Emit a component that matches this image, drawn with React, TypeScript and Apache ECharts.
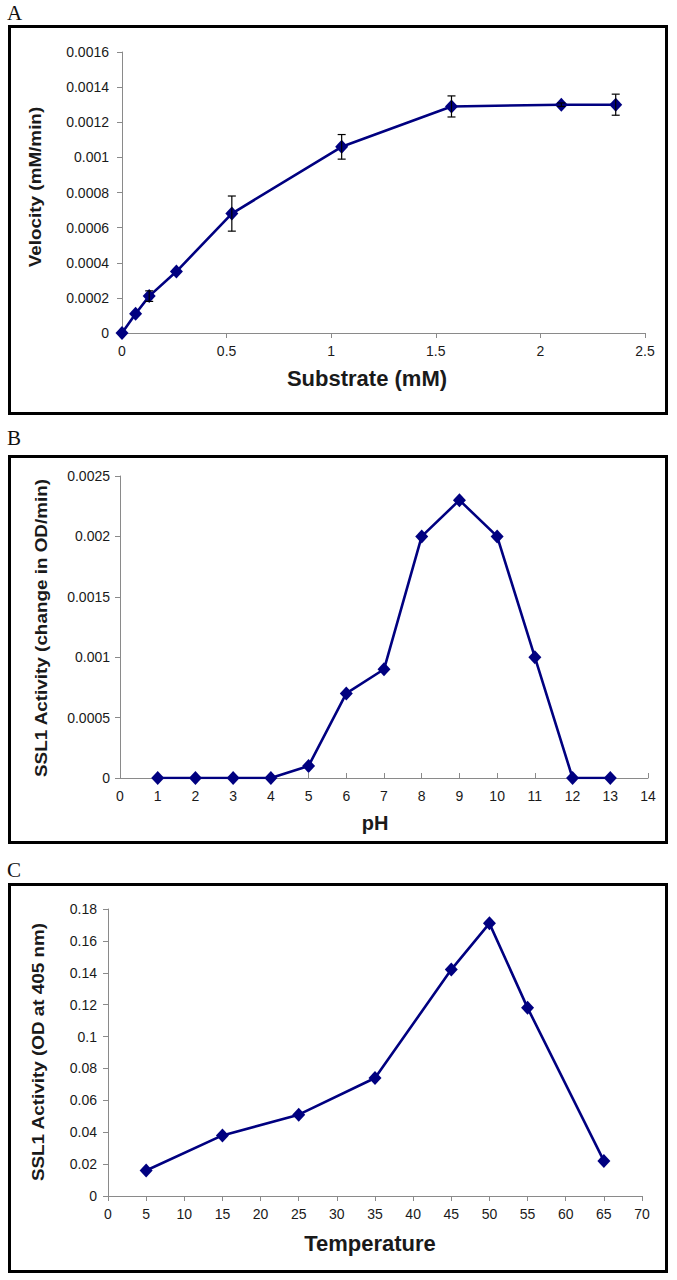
import React, { useEffect, useRef } from "react";
import * as echarts from "echarts";

// Panel A: Michaelis-Menten
const substrate = [0, 0.065, 0.13, 0.26, 0.525, 1.05, 1.575, 2.1, 2.36];
const velocity = [0, 0.00011, 0.00021, 0.00035, 0.00068, 0.00106, 0.00129, 0.0013, 0.0013];
const velocityErr = [0, 0, 0.00003, 0, 0.0001, 0.00007, 0.00006, 0.00001, 0.00006];

// Panel B: pH profile
const pHValues = [1, 2, 3, 4, 5, 6, 7, 8, 9, 10, 11, 12, 13];
const pHActivity = [0, 0, 0, 0, 0.0001, 0.0007, 0.0009, 0.002, 0.0023, 0.002, 0.001, 0, 0];

// Panel C: temperature profile
const temperatures = [5, 15, 25, 35, 45, 50, 55, 65];
const tempActivity = [0.016, 0.038, 0.051, 0.074, 0.142, 0.171, 0.118, 0.022];

const LINE = "#000080";
const AXIS = "#8a8a8a";
const TXT = "#1a1a1a";
const SANS = "Liberation Sans, Arial, sans-serif";
const SERIF = "Liberation Serif, Times New Roman, serif";

const fmt = (v: number) => String(+Number(v).toFixed(6));

function xAxis(gridIndex: number, min: number, max: number, interval: number, inside: boolean) {
  return {
    type: "value",
    gridIndex,
    min,
    max,
    interval,
    axisLine: { show: true, onZero: false, lineStyle: { color: AXIS, width: 1 } },
    axisTick: { show: true, inside, length: 5, lineStyle: { color: AXIS } },
    axisLabel: { color: TXT, fontSize: 14, fontFamily: SANS, margin: 11, formatter: fmt },
    splitLine: { show: false },
  };
}

function yAxis(gridIndex: number, min: number, max: number, interval: number, margin: number) {
  return {
    type: "value",
    gridIndex,
    min,
    max,
    interval,
    axisLine: { show: true, lineStyle: { color: AXIS, width: 1 } },
    axisTick: { show: true, length: 5, lineStyle: { color: AXIS } },
    axisLabel: { color: TXT, fontSize: 14, fontFamily: SANS, margin, formatter: fmt },
    splitLine: { show: false },
  };
}

function lineSeries(idx: number, xs: number[], ys: number[]) {
  return {
    type: "line",
    xAxisIndex: idx,
    yAxisIndex: idx,
    data: xs.map((x, i) => [x, ys[i]]),
    symbol: "diamond",
    symbolSize: [13, 14],
    lineStyle: { color: LINE, width: 2.6 },
    itemStyle: { color: LINE },
    z: 3,
  };
}

function rotText(text: string, x: number, y: number, size: number, stretch: number) {
  return {
    type: "text",
    x,
    y,
    rotation: Math.PI / 2,
    scaleX: stretch,
    style: {
      text,
      fill: TXT,
      font: `bold ${size}px ${SANS}`,
      align: "center",
      verticalAlign: "middle",
    },
  };
}

function hText(text: string, x: number, y: number, size: number) {
  return {
    type: "text",
    x,
    y,
    style: {
      text,
      fill: TXT,
      font: `bold ${size}px ${SANS}`,
      align: "center",
      verticalAlign: "middle",
    },
  };
}

function letter(text: string, x: number, y: number) {
  return {
    type: "text",
    x,
    y,
    style: { text, fill: "#111", font: `21px ${SERIF}`, align: "left", verticalAlign: "middle" },
  };
}

function frame(top: number, bottom: number) {
  return {
    type: "rect",
    shape: { x: 9.5, y: top + 1.5, width: 657, height: bottom - top - 3 },
    style: { fill: "none", stroke: "#000", lineWidth: 3 },
    z: 0,
  };
}

export default function App() {
  const ref = useRef<HTMLDivElement>(null);
  useEffect(() => {
    if (!ref.current) return;
    const chart = echarts.init(ref.current, null, { renderer: "svg" });
    const errData = substrate
      .map((x, i) => [x, velocity[i], velocityErr[i]])
      .filter((d) => d[2] > 0);
    chart.setOption({
      animation: false,
      backgroundColor: "#ffffff",
      grid: [
        { left: 122, top: 52, width: 523, height: 281 },
        { left: 120, top: 476, width: 528, height: 302 },
        { left: 108, top: 909, width: 534, height: 287 },
      ],
      xAxis: [
        xAxis(0, 0, 2.5, 0.5, false),
        xAxis(1, 0, 14, 1, true),
        xAxis(2, 0, 70, 5, false),
      ],
      yAxis: [
        yAxis(0, 0, 0.0016, 0.0002, 13),
        yAxis(1, 0, 0.0025, 0.0005, 10),
        yAxis(2, 0, 0.18, 0.02, 11),
      ],
      series: [
        lineSeries(0, substrate, velocity),
        {
          type: "custom",
          xAxisIndex: 0,
          yAxisIndex: 0,
          data: errData,
          z: 4,
          renderItem: (params: any, api: any) => {
            const x = api.value(0);
            const y = api.value(1);
            const e = api.value(2);
            const t = api.coord([x, y + e]);
            const b = api.coord([x, y - e]);
            const st = { stroke: "#000", lineWidth: 1.2 };
            return {
              type: "group",
              children: [
                { type: "line", shape: { x1: t[0], y1: t[1], x2: b[0], y2: b[1] }, style: st },
                { type: "line", shape: { x1: t[0] - 4, y1: t[1], x2: t[0] + 4, y2: t[1] }, style: st },
                { type: "line", shape: { x1: b[0] - 4, y1: b[1], x2: b[0] + 4, y2: b[1] }, style: st },
              ],
            };
          },
        },
        lineSeries(1, pHValues, pHActivity),
        lineSeries(2, temperatures, tempActivity),
      ],
      graphic: [
        frame(25, 415),
        frame(455, 844),
        frame(883, 1273),
        letter("A", 7, 13),
        letter("B", 7, 438),
        letter("C", 7, 870),
        rotText("Velocity (mM/min)", 36, 187, 16, 1.18),
        hText("Substrate (mM)", 367, 378, 22),
        rotText("SSL1 Activity (change in OD/min)", 42, 628, 16, 1.18),
        hText("pH", 375, 823, 20),
        rotText("SSL1 Activity (OD at 405 nm)", 39, 1052, 16, 1.18),
        hText("Temperature", 370, 1243, 22),
      ],
    });
    return () => chart.dispose();
  }, []);
  return (
    <div
      ref={ref}
      style={{ position: "absolute", left: 0, top: 0, width: 677, height: 1280 }}
    />
  );
}
